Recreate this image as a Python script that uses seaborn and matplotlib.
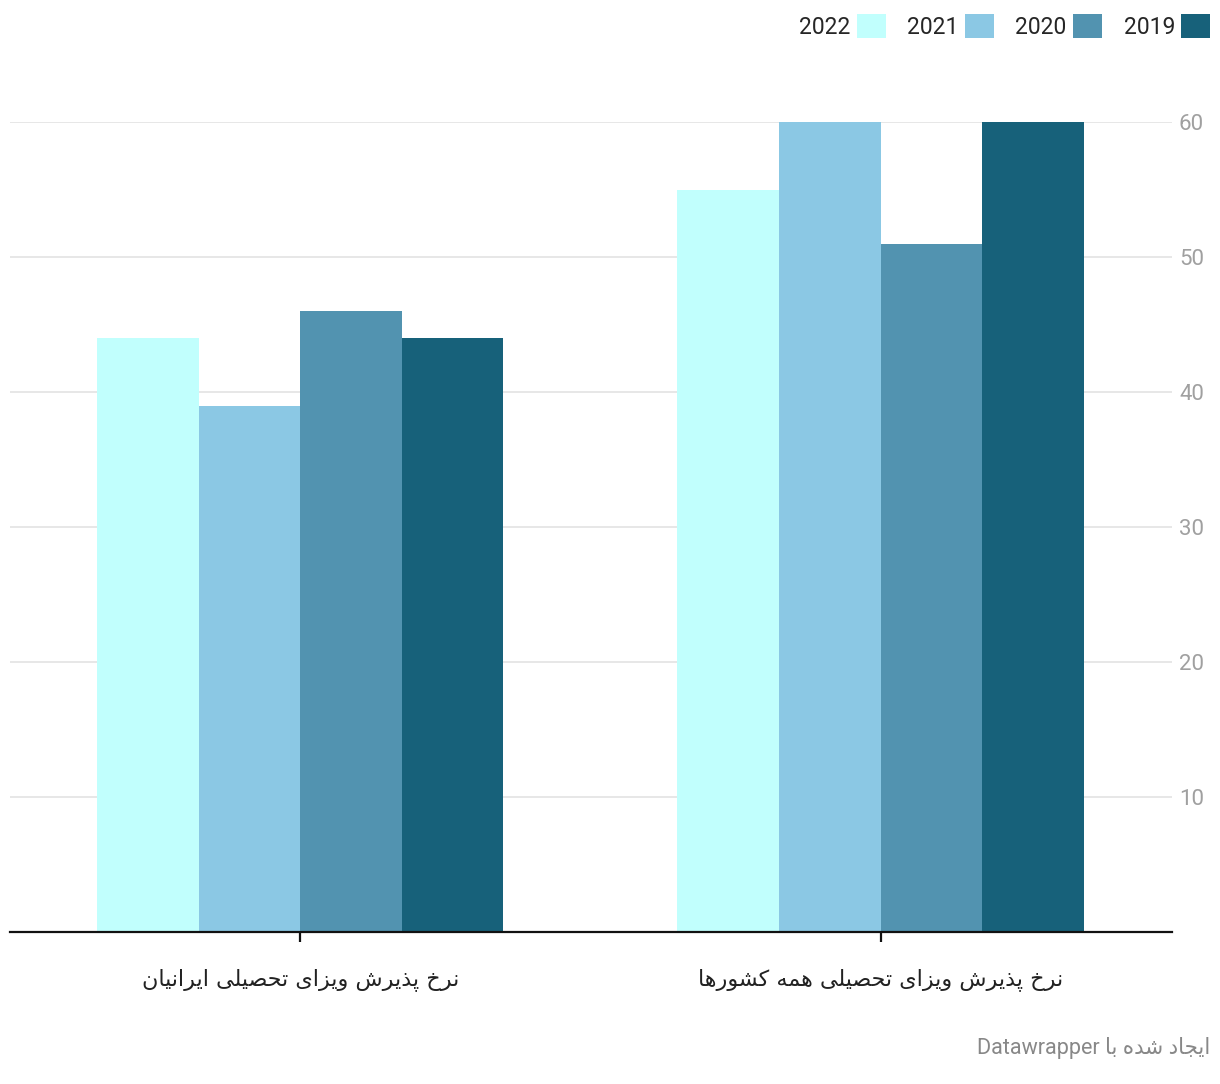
import pandas as pd
import seaborn as sns
import matplotlib.pyplot as plt
from matplotlib.patches import Patch

# Chart data
categories = ['نرخ پذیرش ویزای تحصیلی ایرانیان', 'نرخ پذیرش ویزای تحصیلی همه کشورها']
years = ['2022', '2021', '2020', '2019']
values_2022 = [44, 55]
values_2021 = [39, 60]
values_2020 = [46, 51]
values_2019 = [44, 60]
colors = ['#c1fffd', '#8bc8e4', '#5293b0', '#17617a']
footer = 'ایجاد شده با'

# matplotlib has no Arabic shaping, so pick presentation forms by hand
# (iso, final, initial, medial) for dual-joining, (iso, final) for right-joining
DUAL = {
    'ب': '\uFE8F\uFE90\uFE91\uFE92', 'ت': '\uFE95\uFE96\uFE97\uFE98',
    'ج': '\uFE9D\uFE9E\uFE9F\uFEA0', 'ح': '\uFEA1\uFEA2\uFEA3\uFEA4',
    'خ': '\uFEA5\uFEA6\uFEA7\uFEA8', 'ش': '\uFEB5\uFEB6\uFEB7\uFEB8',
    'ص': '\uFEB9\uFEBA\uFEBB\uFEBC', 'ل': '\uFEDD\uFEDE\uFEDF\uFEE0',
    'م': '\uFEE1\uFEE2\uFEE3\uFEE4', 'ن': '\uFEE5\uFEE6\uFEE7\uFEE8',
    'ه': '\uFEE9\uFEEA\uFEEB\uFEEC', 'ی': '\uFBFC\uFBFD\uFBFE\uFBFF',
    'ک': '\uFB8E\uFB8F\uFB90\uFB91', 'پ': '\uFB56\uFB57\uFB58\uFB59',
}
RIGHT = {
    'ا': '\uFE8D\uFE8E', 'د': '\uFEA9\uFEAA', 'ذ': '\uFEAB\uFEAC',
    'ر': '\uFEAD\uFEAE', 'ز': '\uFEAF\uFEB0', 'و': '\uFEED\uFEEE',
}


def shape(s):
    out = []
    for i, ch in enumerate(s):
        if ch not in DUAL and ch not in RIGHT:
            out.append(ch)
            continue
        prev = s[i - 1] if i > 0 else ''
        nxt = s[i + 1] if i + 1 < len(s) else ''
        jp = prev in DUAL
        jn = ch in DUAL and (nxt in DUAL or nxt in RIGHT)
        forms = DUAL.get(ch) or RIGHT[ch]
        if jp and jn:
            out.append(forms[3])
        elif jn:
            out.append(forms[2])
        elif jp:
            out.append(forms[1])
        else:
            out.append(forms[0])
    return ''.join(out)[::-1]


rows = []
for year, vals in zip(years, [values_2022, values_2021, values_2020, values_2019]):
    for cat, v in zip(categories, vals):
        rows.append({'category': cat, 'year': year, 'value': v})
df = pd.DataFrame(rows)

sns.set_style('white')
plt.rcParams['font.family'] = ['Roboto', 'DejaVu Sans']

fig = plt.figure(figsize=(12.2, 10.84), dpi=100)
ax = fig.add_axes([10 / 1220, 1 - 932 / 1084, 1162 / 1220, 810 / 1084])

sns.barplot(data=df, x='category', y='value', hue='year', order=categories,
            hue_order=years, palette=dict(zip(years, colors)), width=0.7,
            saturation=1, linewidth=0, legend=False, ax=ax)

ax.set_xlim(-0.5, 1.502)
ax.set_ylim(0, 60)
ax.set_xlabel('')
ax.set_ylabel('')

for sp in ['top', 'left', 'right']:
    ax.spines[sp].set_visible(False)
ax.spines['bottom'].set_color('#111111')
ax.spines['bottom'].set_linewidth(1.6)
ax.spines['bottom'].set_zorder(5)

ax.yaxis.tick_right()
ax.set_yticks([10, 20, 30, 40, 50, 60])
ax.tick_params(axis='y', length=0, pad=5, labelsize=16, labelcolor='#a0a0a0')
ax.grid(axis='y', color='#e3e3e3', linewidth=1.2)
ax.set_axisbelow(True)

ax.set_xticks([0, 1])
ax.set_xticklabels([shape(c) for c in categories], family='DejaVu Sans',
                   fontsize=16, color='#222222')
ax.tick_params(axis='x', length=7, width=1.6, color='#111111', pad=19,
               bottom=True, direction='out')

handles = [Patch(facecolor=c, edgecolor='none') for c in colors]
fig.legend(handles, years, loc='upper right', bbox_to_anchor=(1210 / 1220, 1 - 14 / 1084),
           ncol=4, markerfirst=False, frameon=False, fontsize=16.5,
           handlelength=1.25, handleheight=1.25, handletextpad=0.28,
           columnspacing=0.95, borderaxespad=0, borderpad=0)

fig.text(1210 / 1220, 1 - 1048 / 1084, 'Datawrapper ' + shape(footer),
         ha='right', va='center', fontsize=15.5, color='#888888',
         family=['Roboto', 'DejaVu Sans'])

fig.savefig('out.png', dpi=100)
